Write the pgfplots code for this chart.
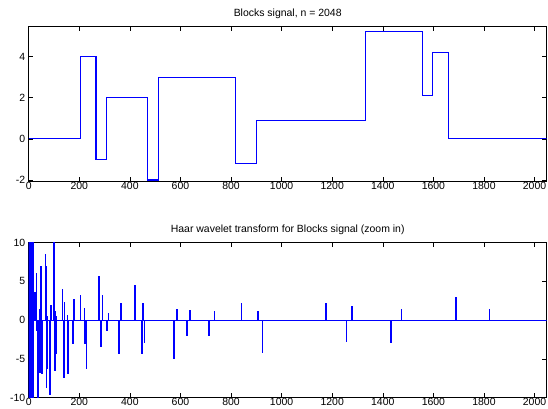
\documentclass[border=0pt]{standalone}
\usepackage{fontspec}
\setmainfont{Liberation Sans}
\usepackage{pgfplots}
\pgfplotsset{compat=1.18}

\definecolor{mblue}{RGB}{0,0,255}

\pgfplotsset{
  mlab/.style={
    scale only axis,
    width=518bp,
    height=155bp,
    xmin=0, xmax=2048,
    xtick={0,200,...,2000},
    tick align=inside,
    major tick length=4.5bp,
    axis line style={line width=0.6pt},
    every tick/.style={black, line width=0.6pt},
    tick label style={font=\fontsize{10.5}{12}\selectfont},
    xticklabel style={inner sep=1bp, yshift=0.5bp},
    title style={font=\fontsize{10.5}{12}\selectfont, yshift=-1bp},
    /pgf/number format/assume math mode=true,
    /pgf/number format/1000 sep={},
    clip=true,
  },
}

\begin{document}
\begin{tikzpicture}
\useasboundingbox (-28.7bp,-227.3bp) rectangle (519.3bp,181.7bp);

% top: blocks signal
\begin{axis}[mlab,
    at={(0,0)}, anchor=south west,
    ymin=-2.08, ymax=5.45,
    ytick={-2,0,2,4},
    title={Blocks signal, n = 2048},
]
\addplot[mblue, line width=1.2pt, const plot] coordinates {
(0,0) (205,4) (266,-1) (307,2) (471,-2) (512,3) (819,-1.2)
(901,0.9) (1331,5.2) (1556,2.1) (1597,4.2) (1659,0) (2048,0)
};
\end{axis}

% bottom: Haar coefficients
\begin{axis}[mlab,
    at={(0,-216bp)}, anchor=south west,
    ymin=-10, ymax=10,
    ytick={-10,-5,0,5,10},
    title={Haar wavelet transform for Blocks signal (zoom in)},
]
\addplot[mblue, line width=1.2pt] coordinates {(0,0) (2048,0)};
\addplot[mblue, line width=1.6pt, ycomb] coordinates {
(1,60) (2,-40) (3,25) (4,-30) (5,18) (6,-22) (7,15) (8,-14)
(9,20) (10,-12) (11,13) (12,-16) (13,11) (14,-18) (15,14) (16,-11)
(17,12) (18,12) (19,-12)
(25,3.6) (31,6.1) (33,-1.4) (37,-11) (44,1.4) (45,-6.8)
(49,7.0) (52,-6.9) (67,8.5) (70,7.0) (71,-8.8) (74,-6.3) (75,0.5)
(84,-9.6) (86,1.4) (88,1.9) (101,10.5) (104,1.2) (105,-6.6)
(107,-4.4) (110,0.6) (134,4.0) (139,-7.4) (142,2.3) (154,0.7)
(155,-7.0) (174,-3.1) (180,2.7) (205,3.3) (220,1.6) (222,-3.1)
(228,-6.3) (277,5.7) (285,-3.5) (291,3.2) (309,-1.4) (316,0.9)
(356,-4.4) (364,2.2) (420,4.6) (447,-4.3) (451,2.2) (458,-3.0)
(574,-5.0) (586,1.5) (627,-2.0) (638,1.3) (714,-2.1) (735,1.2)
(842,2.2) (907,1.2) (925,-4.2) (1175,2.2) (1257,-2.8) (1278,1.8)
(1432,-3.0) (1474,1.5) (1689,3.0) (1822,1.5)
};
\end{axis}
\end{tikzpicture}
\end{document}
